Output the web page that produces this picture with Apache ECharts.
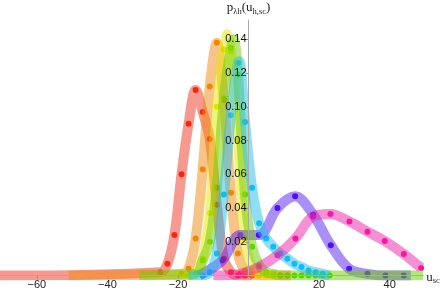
<!DOCTYPE html>
<html><head><meta charset="utf-8">
<script src="https://cdn.jsdelivr.net/npm/echarts@6/dist/echarts.min.js"></script>
<style>html,body{margin:0;padding:0;background:#fff}#c{width:443px;height:290px}</style>
</head><body><div id="c"></div>
<script>
// tick labels
const xTickLabels = [-60, -40, -20, 20, 40];
const yTickLabels = [0.02, 0.04, 0.06, 0.08, 0.10, 0.12, 0.14];

// curve names
const curveNames = ['red', 'orange', 'yellow', 'purple', 'green', 'cyan', 'magenta'];

// each curve: sampled points [u, p] (dots), extra curve-only points, and plotted u-range
const redRange = [-70.45, 1];
const redDots = [[-25,0.002],[-23,0.007],[-21,0.024],[-19,0.060],[-17,0.090],[-15,0.110],[-13,0.097],[-11,0.081],[-9,0.042],[-7,0.010],[-5,0.002],[-3,0],[-1,0],[1,0]];
const redPeak = [];

const orangeRange = [-51, 12];
const orangeDots = [[-19,0.001],[-17,0.004],[-15,0.022],[-13,0.063],[-11,0.112],[-9,0.138],[-7,0.104],[-5,0.049],[-3,0.013],[-1,0.003],[1,0.001],[3,0],[5,0],[7,0],[9,0],[11,0]];
const orangePeak = [];

const yellowRange = [-21, 8];
const yellowDots = [[-17,0],[-15,0.002],[-13,0.010],[-11,0.037],[-9,0.100],[-7,0.134],[-5,0.133],[-3,0.080],[-1,0.022],[1,0.004],[3,0.001],[5,0],[7,0]];
const yellowPeak = [[-6, 0.143]];

const purpleRange = [-14, 46];
const purpleDots = [[-7.4,0.009],[-2.3,0.024],[2.9,0.024],[8.2,0.040],[13.2,0.047],[18.3,0.036],[23.3,0.018],[28.5,0.004],[33.7,0.001],[38.8,0],[44,0]];
const purplePeak = [];

const greenRange = [-31, 49.5];
const greenDots = [[-15,0.001],[-13,0.009],[-11,0.020],[-9,0.052],[-7,0.105],[-5,0.135],[-3,0.119],[-1,0.048],[1,0.017],[3,0.006],[5,0.002],[7,0.001],[9,0],[11,0],[13,0],[15,0],[17,0],[19,0],[21,0],[23,0]];
const greenPeak = [[-4.2, 0.140]];

const cyanRange = [-17, 23];
const cyanDots = [[-13,0],[-11,0.002],[-9,0.013],[-7,0.048],[-5,0.095],[-3,0.126],[-1,0.091],[1,0.052],[3,0.031],[5,0.022],[7,0.017],[9,0.013],[11,0.010],[13,0.007],[15,0.005],[17,0.003],[19,0.002],[21,0.001]];
const cyanPeak = [[-2.6, 0.127]];

const magentaRange = [-10, 48.9];
const magentaDots = [[-2.3,0.001],[2.9,0.005],[8.2,0.012],[13.3,0.022],[18.3,0.035],[23.2,0.0365],[28.6,0.032],[33.7,0.026],[38.6,0.0205],[44,0.0128],[48.9,0.0045]];
const magentaPeak = [];

const curveData = {
  red: [redRange, redDots, redPeak], orange: [orangeRange, orangeDots, orangePeak],
  yellow: [yellowRange, yellowDots, yellowPeak], purple: [purpleRange, purpleDots, purplePeak],
  green: [greenRange, greenDots, greenPeak], cyan: [cyanRange, cyanDots, cyanPeak],
  magenta: [magentaRange, magentaDots, magentaPeak]
};
const bandColors = {red:'#ee3322', orange:'#f08a10', yellow:'#e6e600', purple:'#5522ee', green:'#6ccc00', cyan:'#22bbee', magenta:'#ee22aa'};
const dotColors = {red:'#ff1a00', orange:'#f57f00', yellow:'#e2e200', purple:'#4a00ee', green:'#44dd00', cyan:'#00bff0', magenta:'#ff0f99'};

function linePts(range, dots, extra) {
  const pts = dots.concat(extra).sort((a, b) => a[0] - b[0]);
  if (range[0] < pts[0][0]) pts.unshift([range[0], 0]);
  if (range[1] > pts[pts.length - 1][0]) pts.push([range[1], 0]);
  return pts;
}

const series = [];
curveNames.forEach(n => {
  const [range, dots, extra] = curveData[n];
  series.push({
    type: 'line', name: n + ' band', data: linePts(range, dots, extra), smooth: 0.35,
    showSymbol: false, silent: true,
    lineStyle: {color: bandColors[n], width: 10, opacity: 0.5, cap: 'butt', join: 'round'}
  });
  series.push({
    type: 'scatter', name: n, data: dots, symbolSize: 6, silent: true,
    itemStyle: {color: dotColors[n], opacity: 1}
  });
});

const X_MIN = -70.45, X_MAX = 49.5, GRID_RIGHT = 19.8;
const gridWidth = 443 - GRID_RIGHT;
const zeroOffset = (0 - X_MIN) / (X_MAX - X_MIN) * gridWidth;

const chart = echarts.init(document.getElementById('c'), null, {renderer: 'canvas'});
chart.setOption({
  animation: false,
  backgroundColor: '#fff',
  grid: {left: 0, right: GRID_RIGHT, top: 20, bottom: 14.5, containLabel: false, outerBoundsMode: 'none'},
  xAxis: {
    type: 'value', min: X_MIN, max: X_MAX, z: 10,
    name: 'u{s|sc}', nameLocation: 'end', nameGap: 3,
    nameTextStyle: {fontFamily: 'Liberation Serif', fontSize: 13, color: '#222', verticalAlign: 'middle', padding: [4,0,0,0],
      rich: {s: {fontFamily: 'Liberation Serif', fontSize: 8.5, color: '#222', padding: [7,0,0,0]}}},
    axisLine: {onZero: false, lineStyle: {color: '#aaa', width: 1}},
    axisTick: {show: true, length: 3, inside: false, customValues: xTickLabels, lineStyle: {color: '#999'}},
    axisLabel: {customValues: xTickLabels, margin: 4, fontFamily: 'Liberation Sans', fontSize: 11, color: '#222',
      formatter: v => String(v).replace('-', '\u2212')},
    splitLine: {show: false}
  },
  yAxis: {
    type: 'value', min: 0, max: 0.1515, position: 'left', offset: -zeroOffset, z: 10,
    name: 'p{s|λh}(u{s|h,sc})', nameLocation: 'end', nameGap: 4,
    nameTextStyle: {fontFamily: 'Liberation Serif', fontSize: 13, color: '#222', align: 'center',
      rich: {s: {fontFamily: 'Liberation Serif', fontSize: 8.5, color: '#222', padding: [7,0,0,0]}}},
    axisLine: {show: true, onZero: false, lineStyle: {color: '#aaa', width: 1}},
    axisTick: {show: true, length: 3, customValues: yTickLabels, lineStyle: {color: '#999'}},
    axisLabel: {customValues: yTickLabels, margin: 2, fontFamily: 'Liberation Sans', fontSize: 11, color: '#111',
      formatter: v => v.toFixed(2)},
    splitLine: {show: false}
  },
  series: series
});
</script></body></html>
